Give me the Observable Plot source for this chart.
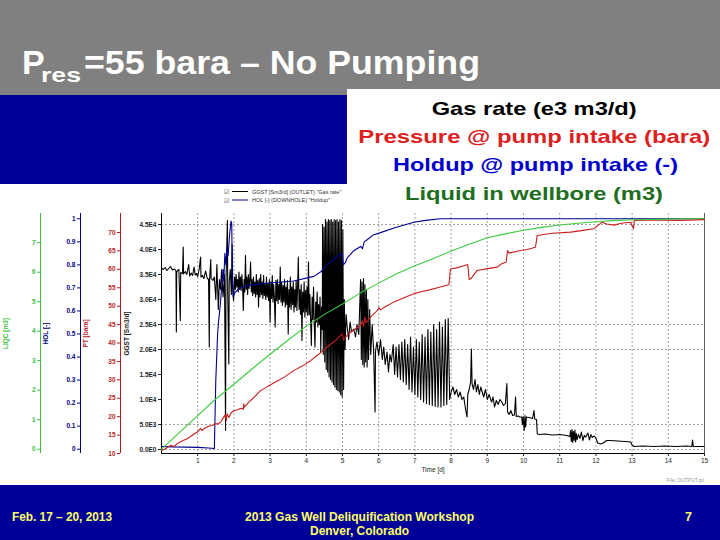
<!DOCTYPE html>
<html><head><meta charset="utf-8">
<script src="https://cdn.jsdelivr.net/npm/d3@7"></script>
<script src="https://cdn.jsdelivr.net/npm/@observablehq/plot@0.6"></script>
<style>
html,body{margin:0;padding:0;background:#fff;}
#slide{position:relative;width:720px;height:540px;overflow:hidden;font-family:"Liberation Sans",Arial,sans-serif;}
#slide svg{position:absolute;}
</style></head><body><div id="slide"></div>
<script>
// ---------- data ----------
const timeTicks = [1,2,3,4,5,6,7,8,9,10,11,12,13,14,15];
const gasTicks = [0,5000,10000,15000,20000,25000,30000,35000,40000,45000];
const gasTickLabels = ["0.0E0","5.0E3","1.0E4","1.5E4","2.0E4","2.5E4","3.0E4","3.5E4","4.0E4","4.5E4"];
const gasGrid = [0,5000,20000,25000,45000];
const ptTicks = [10,15,20,25,30,35,40,45,50,55,60,65,70];
const holTicks = [0,0.1,0.2,0.3,0.4,0.5,0.6,0.7,0.8,0.9,1];
const holTickLabels = ["0","0.1","0.2","0.3","0.4","0.5","0.6","0.7","0.8","0.9","1"];
const liqTicks = [0,1,2,3,4,5,6,7];

const gasTime = [0.00,0.05,0.10,0.15,0.20,0.25,0.30,0.36,0.40,0.41,0.42,0.48,0.52,0.53,0.58,0.60,0.61,0.66,0.70,0.75,0.78,0.82,0.86,0.90,0.93,0.97,1.00,1.04,1.08,1.09,1.13,1.17,1.22,1.26,1.30,1.32,1.33,1.36,1.37,1.42,1.46,1.50,1.53,1.57,1.60,1.63,1.66,1.70,1.74,1.77,1.78,1.82,1.83,1.86,1.87,1.90,1.93,1.95,1.97,1.99,
2.02,2.04,2.06,2.08,2.10,2.12,2.14,2.16,2.18,2.20,2.22,2.24,2.26,2.28,2.30,2.32,2.34,2.36,2.38,2.40,2.42,2.44,2.46,2.48,2.50,2.52,2.54,2.56,2.58,2.60,2.62,2.64,2.66,2.68,2.70,2.72,2.74,2.76,2.78,2.80,2.82,2.84,2.86,2.88,2.90,2.92,2.94,2.96,2.98,
3.00,3.02,3.04,3.06,3.08,3.10,3.12,3.14,3.16,3.18,3.20,3.22,3.24,3.26,3.28,3.30,3.32,3.34,3.36,3.38,3.40,3.42,3.44,3.46,3.48,3.50,3.52,3.54,3.56,3.58,3.60,3.62,3.64,3.66,3.68,3.70,3.72,3.74,3.76,3.78,3.80,3.82,3.84,3.86,3.88,3.90,3.92,3.94,3.96,3.98,
4.00,4.02,4.04,4.06,4.08,4.10,4.12,4.14,4.16,4.18,4.20,4.22,4.24,4.26,4.28,4.30,4.32,4.34,4.36,4.38,4.40,4.42,4.44,
4.45,4.47,4.49,4.51,4.53,4.55,4.57,4.59,4.61,4.63,4.65,4.67,4.69,4.71,4.73,4.75,4.77,4.79,4.81,4.83,4.85,4.87,4.89,4.91,4.93,4.95,4.97,4.99,5.01,5.03,5.05,5.07,5.10,5.13,5.17,5.21,5.25,5.31,5.36,5.40,5.45,
5.50,5.52,5.54,5.56,5.58,5.60,5.62,5.64,5.66,5.68,5.70,5.72,5.75,5.78,5.82,5.86,5.90,5.91,5.95,6.00,6.05,6.10,6.14,6.18,6.23,6.27,6.31,6.35,6.40,
6.44,6.48,6.52,6.56,6.60,6.64,6.68,6.72,6.76,6.80,6.84,6.88,6.92,6.96,7.00,7.04,7.08,7.12,7.16,7.20,7.24,7.28,7.32,7.36,7.40,7.44,7.48,7.52,7.56,7.60,7.64,7.68,7.72,7.76,7.80,7.84,7.88,7.92,7.96,8.00,
8.05,8.10,8.15,8.20,8.25,8.30,8.35,8.40,8.44,8.46,8.50,8.54,8.56,8.58,8.62,8.66,8.70,8.74,8.78,8.82,8.86,8.90,8.95,9.00,9.05,9.09,9.12,9.16,9.20,9.25,9.30,9.35,9.40,9.45,9.50,9.54,9.56,9.60,9.65,9.70,9.75,9.78,9.80,9.85,9.90,9.95,9.97,9.99,10.02,10.04,10.06,10.08,10.20,10.25,10.29,10.31,10.36,10.38,10.45,10.60,10.80,11.00,11.20,11.28,11.30,11.32,11.34,11.36,11.38,11.40,11.42,11.44,11.46,11.48,11.52,11.56,11.60,11.64,11.68,11.72,11.78,11.82,11.86,11.90,11.95,12.00,12.05,12.13,12.20,12.30,12.40,12.60,12.80,12.96,13.00,13.05,13.30,13.60,13.90,14.20,14.50,14.65,14.67,14.69,15.00];
const gasRate = [36300,36000,36400,35800,36200,36600,35900,36100,35700,23500,35600,36000,25800,35400,35200,40500,35100,35600,35000,37000,34700,35300,34800,36500,34900,35200,34600,36000,38500,34500,34800,34200,35700,34300,34000,20500,34100,38000,34200,33800,34500,30000,37000,28000,34000,32000,36000,30500,35000,3800,33000,45800,31000,17100,33500,36000,31000,41000,32500,29800,
34500,32000,35000,32500,34000,31500,35500,32000,34500,31800,35000,32500,27800,34000,31500,38800,32000,34500,31000,35000,32200,33800,37500,31500,34000,30800,34500,31200,33500,30500,35000,31000,33800,28500,34200,30500,35000,31000,33500,30200,34800,30800,33000,30000,34500,30500,33200,29800,34000,
25500,33500,30200,34800,29500,33000,30000,24500,33800,29800,34000,29200,33000,30000,36500,29500,33500,28800,32800,29500,34000,28500,32500,29000,33800,23100,32000,28500,34500,28000,32500,29000,33500,27500,32000,28500,33800,27800,32500,38500,28000,32000,27000,33000,21800,31500,27500,33500,26500,31800,
27500,32500,26800,37500,27000,31000,25500,20800,30500,26000,32500,25000,20500,29500,25500,31500,24500,29000,25000,30500,19500,28500,24000,
45000,19000,44500,17500,46000,16000,45500,15500,46000,14500,45800,14000,46000,13500,45500,13000,46000,12500,45800,12000,46000,11800,45500,11500,46000,11000,45800,10500,44000,12000,30000,20000,27000,24500,22000,25500,23500,24100,22500,25000,23000,
34000,18000,33500,17000,34200,16500,33000,17500,32000,16500,30000,18000,28000,19000,25000,19800,7500,19500,21500,18800,22000,18000,20500,17000,19500,15500,19000,17500,21000,
15000,20500,14500,21000,14000,21500,13500,22000,13000,21000,12000,22500,11500,20500,11000,22000,10500,21500,10000,23000,9500,22500,9200,24000,9000,23500,8800,25000,8600,24000,8500,25500,8500,24500,8800,26000,9000,26200,10000,11500,
12500,11000,12000,10500,11500,10000,10500,8000,6500,11000,12000,13500,20100,13100,12000,14000,11500,13000,11000,12500,11500,10500,12000,10000,11000,10100,9500,10500,8500,9800,9000,10000,9500,8800,9200,13200,7500,7000,7800,6800,6900,10500,6600,6700,6500,6500,5000,6600,3800,6800,4500,6500,6300,6200,7800,6100,6000,3100,3000,3100,2900,3000,2800,2600,3800,1600,4000,1400,3600,1800,3900,1500,3200,2000,3000,2200,3500,1800,2800,2500,3300,1900,3000,2400,2700,2300,1300,1100,1300,1800,1800,1700,1600,1500,900,600,700,600,700,600,700,600,1900,600,600];

const presTime = [0.00,0.10,0.25,0.35,0.45,0.60,0.71,0.80,0.90,1.00,1.08,1.12,1.17,1.30,1.40,1.49,1.55,1.63,1.70,1.76,1.79,1.81,1.86,1.92,2.00,2.10,2.20,2.26,2.27,2.29,2.40,2.55,2.73,2.95,3.20,3.40,3.65,3.90,4.12,4.35,4.58,4.80,4.99,5.03,5.08,5.20,5.35,5.50,5.55,5.58,5.62,5.65,5.80,5.96,6.00,6.05,6.20,6.42,6.70,6.97,7.20,7.43,7.70,7.94,7.98,8.15,8.35,8.46,8.50,8.55,8.72,9.00,9.27,9.40,9.52,9.55,9.56,9.60,9.92,10.10,10.33,10.38,10.50,10.80,11.30,11.60,11.94,12.17,12.30,12.50,12.70,12.96,13.04,13.06,13.60,14.30,15.00];
const presVal = [10.8,11.2,12.2,11.9,12.8,13.5,14.0,14.6,15.3,15.9,16.8,16.2,16.7,17.4,17.6,18.1,18.0,18.5,19.6,20.5,19.0,20.8,19.8,21.0,21.6,21.9,22.3,22.0,23.5,22.6,23.8,25.2,27.0,28.3,29.7,30.8,32.5,33.8,35.2,37.0,38.9,40.6,42.5,40.8,41.5,42.8,43.8,44.8,46.0,44.5,47.0,45.5,47.3,48.8,49.6,49.0,50.0,51.1,52.3,53.4,54.0,54.5,55.2,55.8,60.1,60.4,61.0,61.3,57.2,57.5,59.7,60.2,60.6,61.5,62.0,64.3,65.1,64.4,65.1,65.4,66.0,69.2,69.4,69.8,70.1,70.5,71.0,72.8,72.3,72.0,72.5,72.8,71.0,73.3,73.4,73.3,73.5];

const holdTime = [0.00,0.30,1.00,1.30,1.46,1.50,1.55,1.58,1.62,1.66,1.70,1.72,1.75,1.78,1.81,1.84,1.88,1.92,1.94,1.96,1.98,2.03,2.10,2.18,2.37,2.92,3.65,4.21,4.40,4.58,4.80,4.99,5.02,5.08,5.13,5.30,5.50,5.55,5.60,5.69,5.85,6.05,6.42,6.97,7.30,7.70,15.00];
const holdVal = [0.012,0.010,0.008,0.005,0.003,0.30,0.50,0.56,0.62,0.70,0.78,0.73,0.85,0.80,0.88,0.84,0.93,0.99,0.98,0.72,0.66,0.68,0.69,0.70,0.71,0.72,0.73,0.75,0.77,0.80,0.83,0.85,0.80,0.81,0.83,0.86,0.88,0.87,0.90,0.91,0.93,0.94,0.96,0.985,0.993,1.0,1.0];

const liqTime = [0,0.5,1.0,1.45,2.0,2.5,3.0,3.5,4.02,4.5,5.0,5.5,6.0,6.5,7.0,7.43,8.0,8.5,9.0,9.5,10.0,10.5,11.0,11.5,12.0,12.5,13.0,14.0,15.0];
const liqVal = [0.0,0.57,1.14,1.65,2.2,2.72,3.22,3.7,4.19,4.57,4.92,5.3,5.63,5.95,6.22,6.42,6.72,6.95,7.17,7.3,7.42,7.52,7.6,7.66,7.71,7.75,7.78,7.8,7.82];

const colors = {gas:"#000000", pt:"#c81e1e", hol:"#000090", liq:"#3ccc3c", ptAxis:"#b41e1e", holAxis:"#000080", liqAxis:"#3cbf3c"};

// ---------- layout ----------
const FONT = "'Liberation Sans', Arial, sans-serif";
const W = 720, H = 280, TOP = 205, MT = 8, MB = 32, PL = 161, PR = 16;
const slide = document.getElementById("slide");

// background decoration
const bg = d3.select(slide).append("svg").attr("width",720).attr("height",540).style("left","0px").style("top","0px");
bg.append("rect").attr("x",0).attr("y",0).attr("width",720).attr("height",96).attr("fill","#808080");
bg.append("rect").attr("x",0).attr("y",95).attr("width",720).attr("height",89).attr("fill","#000099");
bg.append("rect").attr("x",0).attr("y",485).attr("width",720).attr("height",55).attr("fill","#000099");
const tt = bg.append("g").attr("fill","#ffffff").attr("font-family",FONT).attr("font-weight","bold");
tt.append("text").attr("x",22).attr("y",74).attr("font-size",34).text("P");
tt.append("text").attr("x",41).attr("y",82).attr("font-size",21).attr("textLength",40).attr("lengthAdjust","spacingAndGlyphs").text("res");
tt.append("text").attr("x",84).attr("y",74).attr("font-size",34).attr("textLength",396).attr("lengthAdjust","spacingAndGlyphs").text("=55 bara – No Pumping");
const ft = bg.append("g").attr("fill","#ffff66").attr("font-family",FONT).attr("font-size",12.5).attr("font-weight","bold");
ft.append("text").attr("x",12).attr("y",521).attr("textLength",100).attr("lengthAdjust","spacingAndGlyphs").text("Feb. 17 – 20, 2013");
ft.append("text").attr("x",245).attr("y",521).attr("textLength",229).attr("lengthAdjust","spacingAndGlyphs").text("2013 Gas Well Deliquification Workshop");
ft.append("text").attr("x",310).attr("y",535).attr("textLength",99).attr("lengthAdjust","spacingAndGlyphs").text("Denver, Colorado");
ft.append("text").attr("x",685).attr("y",521).text("7");
// instrument legend (partly hidden behind the text box)
const lg = bg.append("g").attr("font-family",FONT).attr("font-size",5.5).attr("fill","#333");
[["GGST [Sm3/d] (OUTLET) \"Gas rate\"", colors.gas, 193.5],["HOL [-] (DOWNHOLE) \"Holdup\"", colors.hol, 202]].forEach(([s,c,y])=>{
  lg.append("text").attr("x",224).attr("y",y+0.5).attr("font-family","'DejaVu Sans'").attr("font-size",6).text("☑");
  lg.append("line").attr("x1",232).attr("x2",248).attr("y1",y-2).attr("y2",y-2).attr("stroke",c).attr("stroke-width",1);
  lg.append("text").attr("x",252).attr("y",y).text(s);
});
bg.append("text").attr("x",704).attr("y",482).attr("text-anchor","end").attr("font-family",FONT).attr("font-size",5).attr("fill","#999").text("File: OUTPUT.tpl");

function place(svg){ svg.style.left = "0px"; svg.style.top = TOP + "px"; slide.appendChild(svg); }
const baseStyle = {background:"transparent", fontFamily:FONT, fontSize:"6.5px"};

// main plot: grid, gas rate, time axis, gas axis
const gasData = gasTime.map((t,i)=>({t, v:gasRate[i]}));
place(Plot.plot({
  width:W, height:H, marginLeft:PL, marginRight:PR, marginTop:MT, marginBottom:MB,
  x:{domain:[0,15]}, y:{domain:[-800,47200]},
  style: baseStyle,
  marks:[
    Plot.ruleX(timeTicks.slice(0,-1), {stroke:"#8a8a8a", strokeDasharray:"2,2", strokeWidth:0.8}),
    Plot.ruleY(gasGrid, {stroke:"#8a8a8a", strokeDasharray:"2,2", strokeWidth:0.8}),
    Plot.line(gasData, {x:"t", y:"v", stroke:colors.gas, strokeWidth:1.1}),
    Plot.ruleX([0], {stroke:"#000"}),
    Plot.ruleX([15], {stroke:"#333", strokeWidth:0.8}),
    Plot.ruleY([-800], {stroke:"#000"}),
    Plot.axisX(timeTicks, {anchor:"bottom", tickSize:3, tickPadding:2, color:"#222", label:"Time [d]", labelAnchor:"center", labelArrow:"none", labelOffset:18}),
    Plot.axisY(gasTicks, {anchor:"left", tickSize:3, tickPadding:2, color:"#222", tickFormat:d=>gasTickLabels[gasTicks.indexOf(d)], label:"GGST [Sm3/d]", labelAnchor:"center", labelArrow:"none", labelOffset:37, fontWeight:"bold"})
  ]
}));

// series lines on their own scales
function seriesLayer(times, vals, domain, stroke){
  place(Plot.plot({
    width:W, height:H, marginLeft:PL, marginRight:PR, marginTop:MT, marginBottom:MB,
    x:{domain:[0,15], axis:null}, y:{domain, axis:null}, style: baseStyle,
    marks:[Plot.line(times.map((t,i)=>({t, v:vals[i]})), {x:"t", y:"v", stroke, strokeWidth:1.1})]
  }));
}
seriesLayer(holdTime, holdVal, [-0.0187,1.023], colors.hol);
seriesLayer(presTime, presVal, [10,75.16], colors.pt);
seriesLayer(liqTime, liqVal, [-0.146,7.99], colors.liq);

// extra left axes
function axisLayer(left, domain, ticks, fmt, color, label){
  place(Plot.plot({
    width:W, height:H, marginLeft:left, marginRight:W-left-1, marginTop:MT, marginBottom:MB,
    x:{domain:[0,1], axis:null}, y:{domain}, style: baseStyle,
    marks:[
      Plot.ruleX([0], {stroke:color}),
      Plot.axisY(ticks, {anchor:"left", tickSize:3, tickPadding:2, color, tickFormat:fmt, label, labelAnchor:"center", labelArrow:"none", labelOffset:37, fontWeight:"bold"})
    ]
  }));
}
axisLayer(40, [-0.146,7.99], liqTicks, d=>String(d), colors.liqAxis, "LIQC [m3]");
axisLayer(80, [-0.0187,1.023], holTicks, d=>holTickLabels[holTicks.indexOf(d)], colors.holAxis, "HOL [-]");
axisLayer(120, [10,75.16], ptTicks, d=>String(d), colors.ptAxis, "PT [bara]");

// foreground text box
const fg = d3.select(slide).append("svg").attr("width",720).attr("height",540).style("left","0px").style("top","0px");
fg.append("rect").attr("x",347).attr("y",89).attr("width",373).attr("height",121).attr("fill","#ffffff");
const bx = fg.append("g").attr("font-family",FONT).attr("font-weight","bold").attr("font-size",18.5);
[["Gas rate (e3 m3/d)","#000000",114.7,431.7,205],["Pressure @ pump intake (bara)","#dd2020",143,358.3,352],["Holdup @ pump intake (-)","#0000cc",171.3,393,285],["Liquid in wellbore (m3)","#1e6e1e",199.7,405,258]].forEach(([s,c,y,x,w])=>{
  bx.append("text").attr("x",x).attr("y",y).attr("fill",c).attr("textLength",w).attr("lengthAdjust","spacingAndGlyphs").text(s);
});
if (gasTime.length !== gasRate.length) console.error("gas length mismatch", gasTime.length, gasRate.length);
</script></body></html>
